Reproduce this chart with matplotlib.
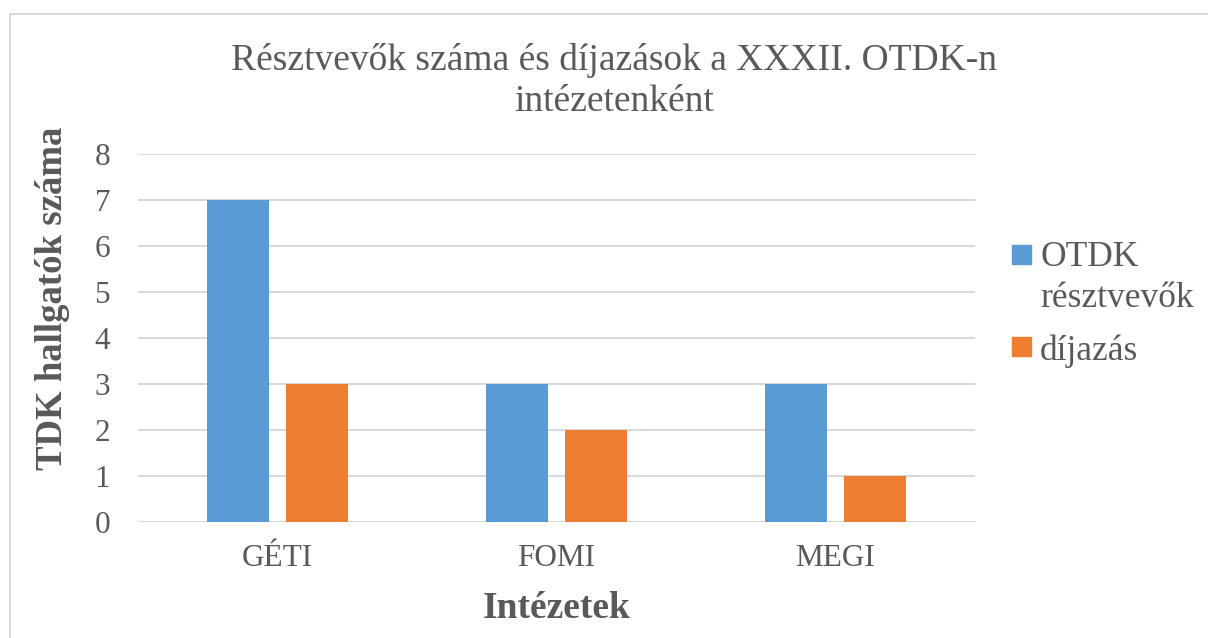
import matplotlib
matplotlib.use("Agg")
import matplotlib.pyplot as plt
from matplotlib.patches import Rectangle
import numpy as np

categories = ["GÉTI", "FOMI", "MEGI"]
participants = [7, 3, 3]
awards = [3, 2, 1]
series_labels = ["OTDK\nrésztvevők", "díjazás"]
colors = ["#5B9BD5", "#ED7D31"]
text_color = "#595959"
grid_color = "#D9D9D9"

plt.rcParams["font.family"] = ["Liberation Serif", "DejaVu Serif"]

W, H = 1208, 638
fig = plt.figure(figsize=(W / 100, H / 100), dpi=100)


def fx(px):
    return px / W


def fy(py):
    return 1 - py / H


# outer chart border (right and bottom edges fall outside the picture)
fig.add_artist(Rectangle((fx(10), fy(660)), fx(1230) - fx(10), fy(14) - fy(660),
                         transform=fig.transFigure, fill=False,
                         edgecolor=grid_color, linewidth=1.5))

ax = fig.add_axes([fx(138), fy(521.7), fx(975) - fx(138), fy(153.7) - fy(521.7)])
x = np.arange(len(categories))
width = 0.223
offset = 0.142
ax.bar(x - offset, participants, width, color=colors[0], zorder=3)
ax.bar(x + offset, awards, width, color=colors[1], zorder=3)

ax.set_xlim(-0.5, len(categories) - 0.5)
ax.set_ylim(0, 8)
ax.set_yticks(range(0, 9))
ax.set_xticks(x)
ax.set_xticklabels(categories)
ax.tick_params(axis="both", length=0, labelsize=22.5, labelcolor=text_color)
ax.tick_params(axis="y", pad=20)
ax.tick_params(axis="x", pad=16)
for s in ax.spines.values():
    s.set_visible(False)
ax.grid(axis="y", color=grid_color, linewidth=1.5, zorder=0)
ax.set_axisbelow(True)

fig.text(fx(614), fy(81), "Résztvevők száma és díjazások a XXXII. OTDK-n\nintézetenként",
         ha="center", va="center", fontsize=27, color=text_color, linespacing=1.28)
fig.text(fx(53), fy(298), "TDK hallgatók száma", rotation=90, ha="center", va="center",
         fontsize=26.5, fontweight="bold", color=text_color)
fig.text(fx(557), fy(609), "Intézetek", ha="center", va="center",
         fontsize=27, fontweight="bold", color=text_color)

# legend
legend_sq = [245, 337]
legend_txt = [241, 334]
for lab, col, sy, ty in zip(series_labels, colors, legend_sq, legend_txt):
    fig.add_artist(Rectangle((fx(1012), fy(sy + 18.5)), fx(18.5), fy(0) - fy(18.5),
                             transform=fig.transFigure, color=col))
    fig.text(fx(1040), fy(ty), lab, ha="left", va="top", fontsize=25.5,
             color=text_color, linespacing=1.32)

fig.savefig("out.png", dpi=100)
